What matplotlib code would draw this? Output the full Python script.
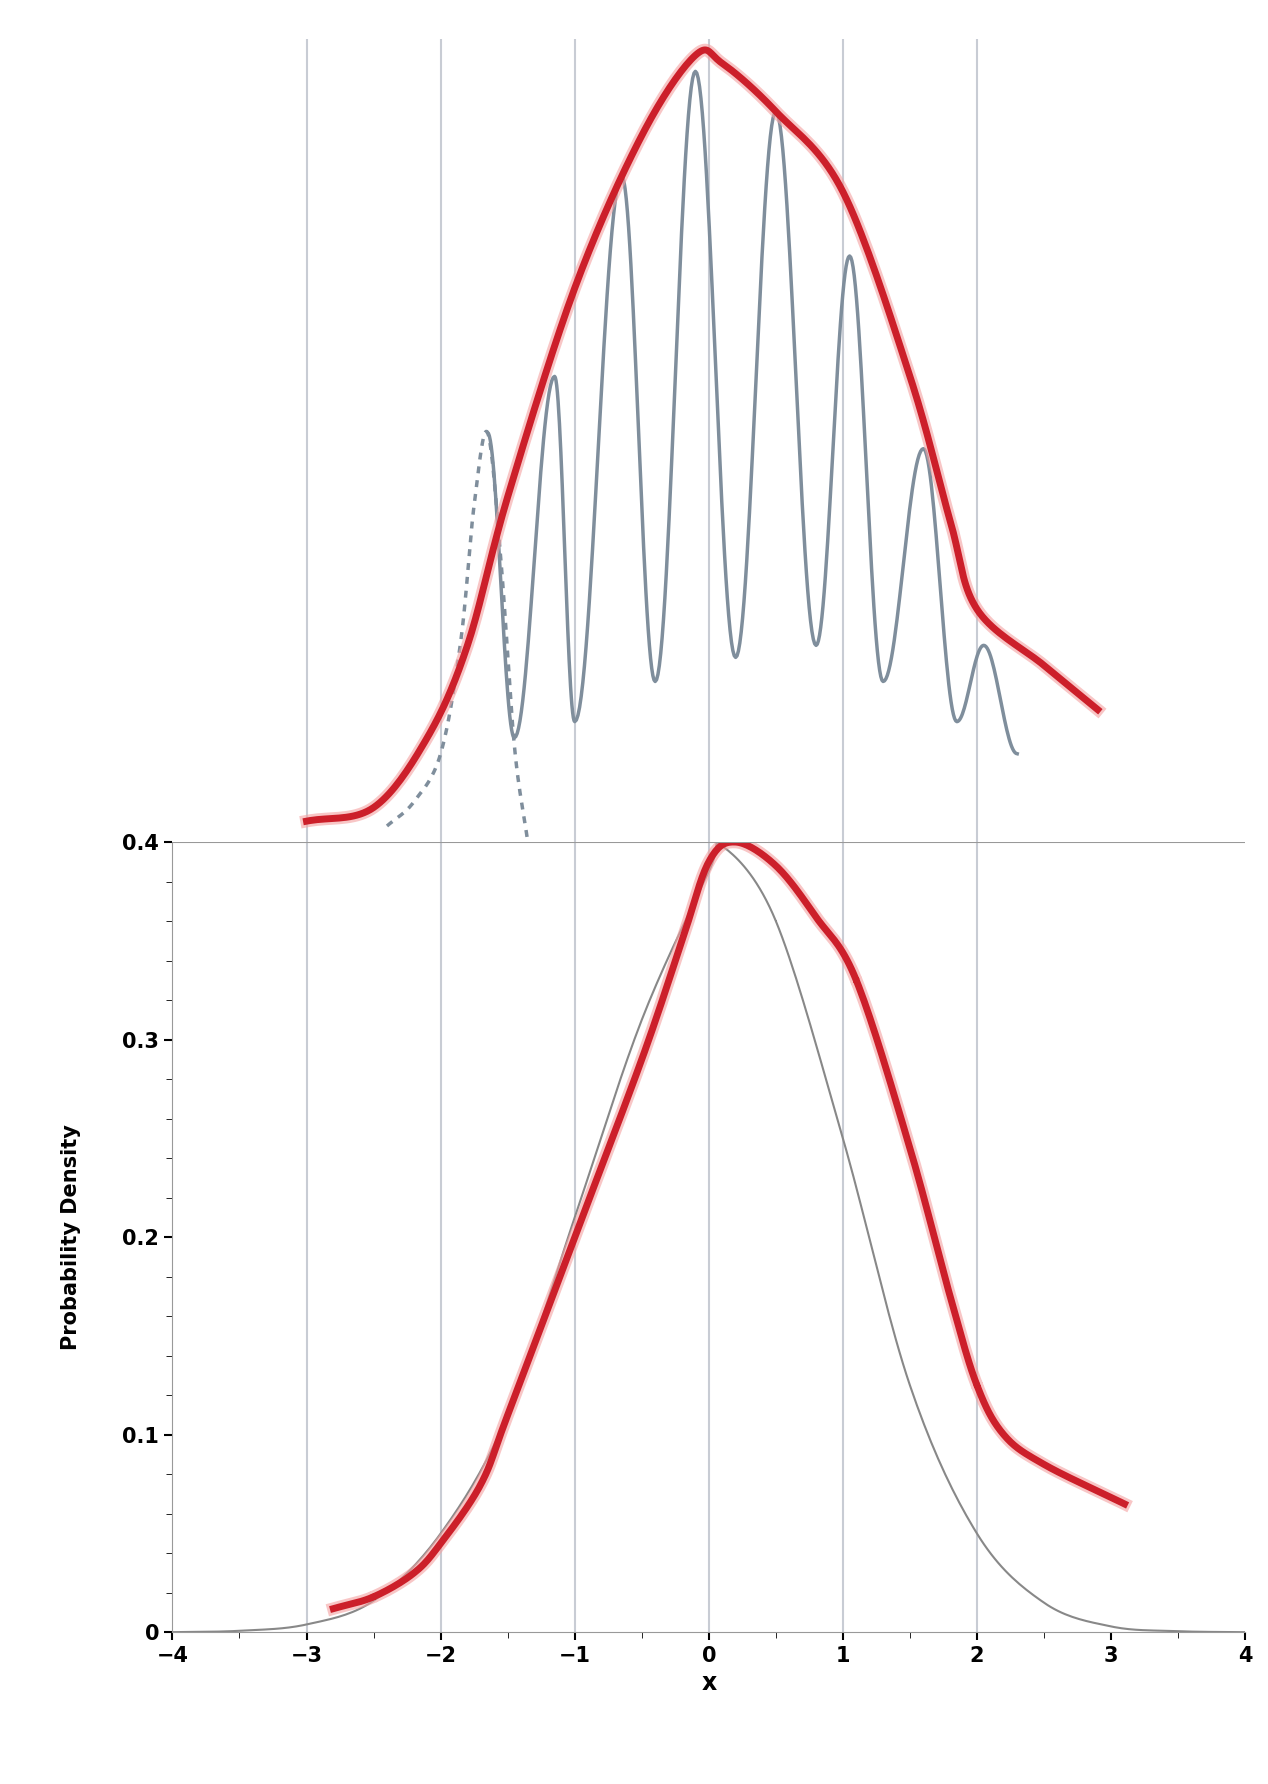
import numpy as np
import matplotlib.pyplot as plt

# bottom panel data
norm_x = [-4, -3.5, -3, -2.5, -2, -1.5, -1, -0.5, 0, 0.1, 0.5, 1, 1.5, 2, 2.5, 3, 3.5, 4]
norm_y = [0.0001, 0.0008, 0.004, 0.016, 0.05, 0.11, 0.21, 0.31, 0.385, 0.398, 0.36, 0.25, 0.125, 0.05, 0.015, 0.003, 0.0006, 0.0001]
red_x = [-2.8, -2.5, -2.2, -2.0, -1.7, -1.5, -1.0, -0.5, -0.2, 0.0, 0.2, 0.5, 0.8, 1.1, 1.5, 1.8, 2.0, 2.2, 2.5, 3.1]
red_y = [0.012, 0.018, 0.03, 0.045, 0.075, 0.11, 0.2, 0.29, 0.35, 0.39, 0.4, 0.388, 0.362, 0.33, 0.245, 0.17, 0.125, 0.1, 0.085, 0.065]

# top panel data (arbitrary height units)
top_red_x = [-3, -2.5, -2.1, -1.8, -1.5, -1.0, -0.5, -0.1, 0.1, 0.5, 1.0, 1.5, 1.8, 2.0, 2.5, 2.9]
top_red_y = [0.026, 0.043, 0.13, 0.245, 0.43, 0.69, 0.88, 0.98, 0.97, 0.91, 0.81, 0.58, 0.40, 0.29, 0.22, 0.165]
osc_x = [-1.65, -1.45, -1.15, -1.0, -0.65, -0.4, -0.1, 0.2, 0.5, 0.8, 1.05, 1.3, 1.6, 1.85, 2.05, 2.3]
osc_y = [0.51, 0.13, 0.58, 0.15, 0.83, 0.2, 0.96, 0.23, 0.91, 0.245, 0.73, 0.2, 0.49, 0.15, 0.245, 0.11]
dash_x = [-2.4, -2.2, -2.0, -1.85, -1.75, -1.65, -1.55, -1.45, -1.35]
dash_y = [0.02, 0.05, 0.11, 0.25, 0.42, 0.51, 0.35, 0.12, 0.0]


def smooth(xs, ys, n=30):
    # cosine easing between extrema
    ox, oy = [], []
    for i in range(len(xs) - 1):
        t = np.linspace(0, 1, n)
        w = (1 - np.cos(np.pi * t)) / 2
        ox.extend(xs[i] + (xs[i+1] - xs[i]) * t)
        oy.extend(ys[i] + (ys[i+1] - ys[i]) * w)
    return ox, oy


def spline(xs, ys, n=20):
    xs, ys = np.array(xs, float), np.array(ys, float)
    px = np.concatenate([[2*xs[0]-xs[1]], xs, [2*xs[-1]-xs[-2]]])
    py = np.concatenate([[2*ys[0]-ys[1]], ys, [2*ys[-1]-ys[-2]]])
    ox, oy = [], []
    t = np.linspace(0, 1, n)
    for i in range(1, len(px) - 2):
        for p, o in ((px, ox), (py, oy)):
            p0, p1, p2, p3 = p[i-1], p[i], p[i+1], p[i+2]
            o.extend(0.5*((2*p1) + (-p0+p2)*t + (2*p0-5*p1+4*p2-p3)*t**2 + (-p0+3*p1-3*p2+p3)*t**3))
    return ox, oy


fig = plt.figure(figsize=(12.68, 17.84), dpi=100)
ax = fig.add_axes([0.136, 0.085, 0.846, 0.443])
top = fig.add_axes([0.136, 0.528, 0.846, 0.45], sharex=ax)

for a in (ax, top):
    for g in [-3, -2, -1, 0, 1, 2]:
        a.axvline(g, color='#c8ccd4', lw=1.5, zorder=0)

x, y = spline(norm_x, norm_y)
ax.plot(x, y, color='#888888', lw=1.5)
x, y = spline(red_x, red_y)
ax.plot(x, y, color='#f4a0a0', lw=9, alpha=0.6)
ax.plot(x, y, color='#cc1f2a', lw=5)
ax.set_xlim(-4, 4)
ax.set_ylim(0, 0.4)
ax.set_xticks(range(-4, 5))
ax.set_yticks([0, 0.1, 0.2, 0.3, 0.4])
ax.set_yticklabels(['0', '0.1', '0.2', '0.3', '0.4'])
ax.set_xticks(np.arange(-3.5, 4, 1), minor=True)
ax.set_yticks(np.arange(0.02, 0.4, 0.02), minor=True)
ax.tick_params(labelsize=15, width=1.5, length=6)
ax.tick_params(which='minor', length=4)
for lab in ax.get_xticklabels() + ax.get_yticklabels():
    lab.set_fontweight('bold')
ax.set_xlabel('x', fontsize=17, fontweight='bold')
ax.set_ylabel('Probability Density', fontsize=15, fontweight='bold', labelpad=30)
for s in ['top', 'right']:
    ax.spines[s].set_visible(False)
ax.axhline(0.4, color='#999999', lw=1.5)
ax.spines['left'].set_color('#999999')
ax.spines['bottom'].set_color('#999999')

x, y = smooth(osc_x, osc_y)
top.plot(x, y, color='#7f8e9c', lw=2.5)
x, y = spline(dash_x, dash_y)
top.plot(x, y, color='#7f8e9c', lw=2.5, ls=(0, (2, 2)))
x, y = spline(top_red_x, top_red_y)
top.plot(x, y, color='#f4a0a0', lw=9, alpha=0.6)
top.plot(x, y, color='#cc1f2a', lw=5)
top.set_ylim(0, 1.0)
top.axis('off')

fig.savefig('out.png')
